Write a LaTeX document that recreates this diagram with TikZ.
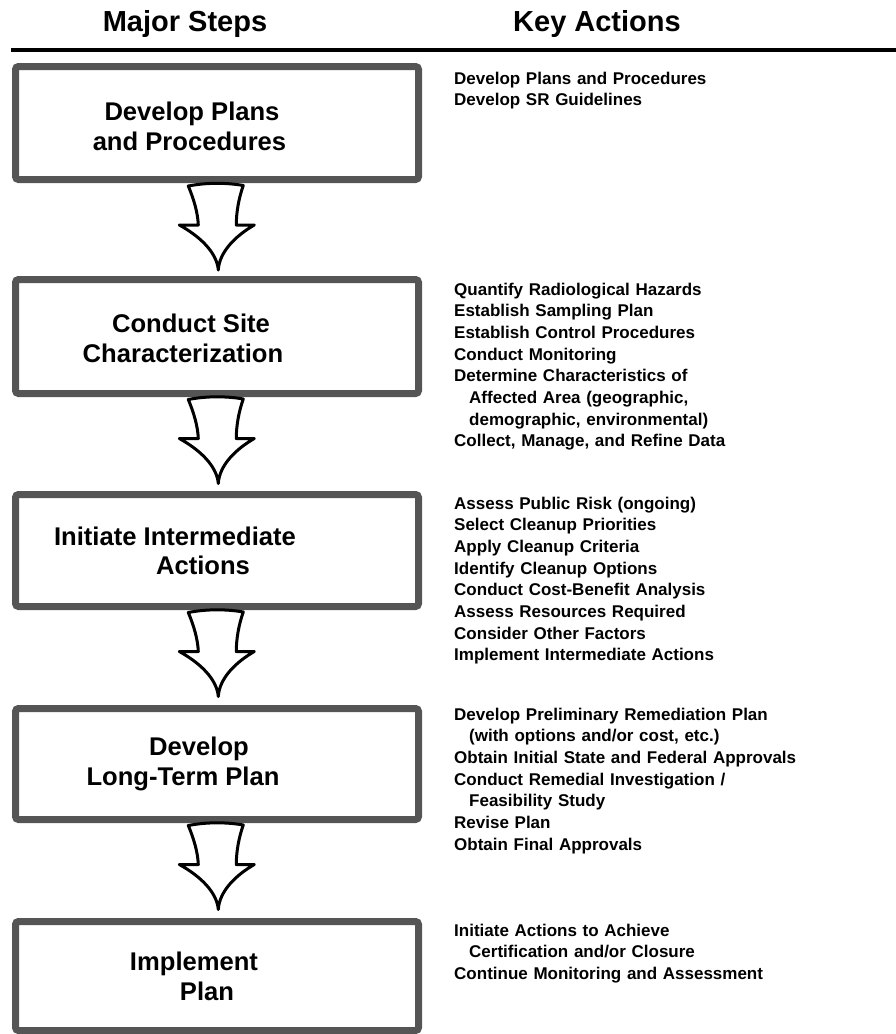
\documentclass[tikz,border=0pt]{standalone}
\usepackage{fontspec}
\setmainfont{Liberation Sans}
\usetikzlibrary{calc}
\definecolor{boxgray}{RGB}{85,85,85}
\begin{document}
\begin{tikzpicture}[x=1pt,y=-1pt,
  stepbox/.style={draw=boxgray, line width=7pt, rounded corners=3pt,
    minimum width=403pt, inner sep=0pt, fill=white},
  steplabel/.style={anchor=base, inner sep=0pt,
    font=\fontsize{25.6}{30}\selectfont\bfseries},
  heading/.style={anchor=base, inner sep=0pt,
    font=\fontsize{29}{34}\selectfont\bfseries},
  actions/.style={anchor=base west, inner sep=0pt, text width=430pt,
    align=left, font=\fontsize{17}{21.7}\selectfont\bfseries},
  flowline/.style={draw=black, line width=3pt, line join=round, fill=white},
  flowarrow/.pic={
    \path[flowline] (-30,-84) .. controls (-12,-87.5) and (8,-87.5) .. (25,-84.5)
      .. controls (20.5,-72) and (18,-58) .. (18,-45)
      -- (36,-45)
      .. controls (17,-34) and (1,-18) .. (0,0)
      .. controls (-1.5,-18) and (-19,-34) .. (-39,-45)
      -- (-20,-45)
      .. controls (-20.5,-58) and (-25,-72) .. (-30,-84) -- cycle;
  },
]
\useasboundingbox (0,0) rectangle (896,1034);

% column headings and rule
\node[heading] (hsteps) at (185,31.5) {Major Steps};
\node[heading] (hacts) at (597,31.5) {Key Actions};
\coordinate (ruleL) at (11,50);
\coordinate (ruleR) at (896,50);
\draw[line width=4pt] (ruleL) -- (ruleR);

% step boxes
\node[stepbox, minimum height=113pt] (b1) at (217,123) {};
\node[stepbox, minimum height=114pt] (b2) at (217,336.5) {};
\node[stepbox, minimum height=112pt] (b3) at (217,550.5) {};
\node[stepbox, minimum height=111pt] (b4) at (217,764) {};
\node[stepbox, minimum height=109pt] (b5) at (217,976) {};

% step titles
\node[steplabel] (b1a) at (192,120) {Develop Plans};
\node[steplabel] (b1b) at (189.5,150) {and Procedures};
\node[steplabel] (b2a) at (191,332) {Conduct Site};
\node[steplabel] (b2b) at (183,362) {Characterization};
\node[steplabel] (b3a) at (175,545.7) {Initiate Intermediate};
\node[steplabel] (b3b) at (203,574) {Actions};
\node[steplabel] (b4a) at (199,755) {Develop};
\node[steplabel] (b4b) at (183,785) {Long-Term Plan};
\node[steplabel] (b5a) at (194,970) {Implement};
\node[steplabel] (b5b) at (207,1000) {Plan};

% block arrows between the steps
\pic at ($(b2.north)+(1.3,-6)$) {flowarrow};
\pic at ($(b3.north)+(1.3,-7.5)$) {flowarrow};
\pic at ($(b4.north)+(1.3,-8.5)$) {flowarrow};
\pic at ($(b5.north)+(1.3,-8.5)$) {flowarrow};

% key actions for each step
\node[actions] (k1) at (454,84) {Develop Plans and Procedures\\
  Develop SR Guidelines};
\node[actions] (k2) at (454,295) {Quantify Radiological Hazards\\
  Establish Sampling Plan\\
  Establish Control Procedures\\
  Conduct Monitoring\\
  Determine Characteristics of\\
  \hspace*{15pt}Affected Area (geographic,\\
  \hspace*{15pt}demographic, environmental)\\
  Collect, Manage, and Refine Data};
\node[actions] (k3) at (454,509) {Assess Public Risk (ongoing)\\
  Select Cleanup Priorities\\
  Apply Cleanup Criteria\\
  Identify Cleanup Options\\
  Conduct Cost-Benefit Analysis\\
  Assess Resources Required\\
  Consider Other Factors\\
  Implement Intermediate Actions};
\node[actions] (k4) at (454,720) {Develop Preliminary Remediation Plan\\
  \hspace*{15pt}(with options and/or cost, etc.)\\
  Obtain Initial State and Federal Approvals\\
  Conduct Remedial Investigation /\\
  \hspace*{15pt}Feasibility Study\\
  Revise Plan\\
  Obtain Final Approvals};
\node[actions] (k5) at (454,936) {Initiate Actions to Achieve\\
  \hspace*{15pt}Certification and/or Closure\\
  Continue Monitoring and Assessment};
\end{tikzpicture}
\end{document}
